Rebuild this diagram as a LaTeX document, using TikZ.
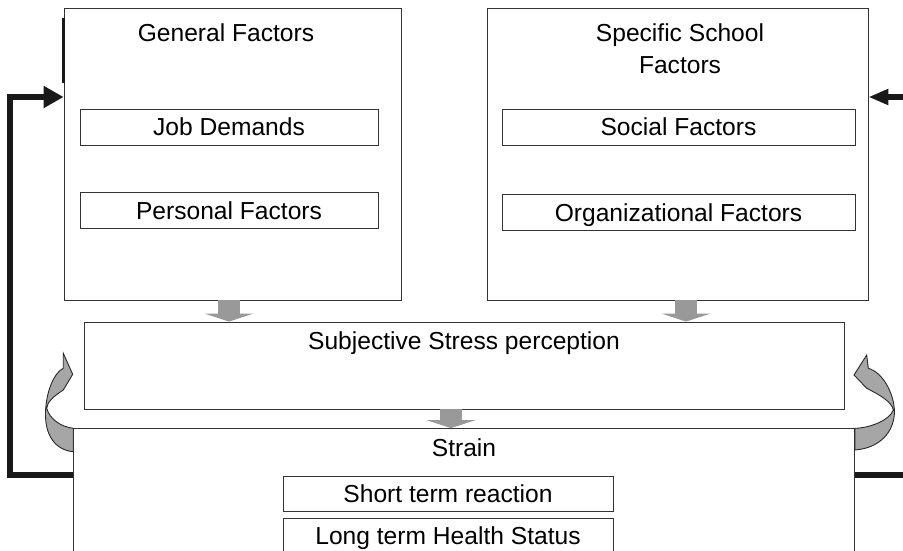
\documentclass[tikz,border=0pt]{standalone}
\usepackage{fontspec}
\setmainfont{Liberation Sans}
\usetikzlibrary{arrows.meta}
\begin{document}
\begin{tikzpicture}[x=0.02cm, y=-0.02cm,
  font=\fontsize{14}{18}\selectfont,
  bigbox/.style={rectangle, draw=black!80, line width=0.5pt},
  smallbox/.style={rectangle, draw=black!80, line width=0.5pt, minimum height=0.72cm, text height=10pt, text depth=0pt, inner sep=0pt},
  title/.style={anchor=base, inner sep=0pt},
  fall/.style={draw=black!40, line width=0.44cm, -{Triangle[length=0.16cm, width=0.98cm, line width=0pt]}},
  feedback/.style={draw=black!90, line width=3pt},
  swirl/.style={fill=black!35, draw=black!85, line width=0.5pt}]
\useasboundingbox (0,0) rectangle (903,551);
\node (general) [bigbox, minimum width=6.74cm, minimum height=5.84cm] at (232.5,154) {};
\node (specific) [bigbox, minimum width=7.62cm, minimum height=5.84cm] at (677.5,154) {};
\node (gentitle) [title] at (226,41.5) {General Factors};
\node (spectitle) [anchor=north, align=center, inner sep=0pt] at (680,23.7) {Specific School\\Factors};
\node (job) [smallbox, minimum width=5.96cm] at (229,127) {Job Demands};
\node (personal) [smallbox, minimum width=5.96cm] at (229,210.5) {Personal Factors};
\node (social) [smallbox, minimum width=7.06cm] at (678.5,127) {Social Factors};
\node (organizational) [smallbox, minimum width=7.06cm] at (678.5,212.5) {Organizational Factors};
\node (subjective) [bigbox, minimum width=15.22cm, minimum height=1.74cm] at (464.5,365.5) {};
\node (subjtitle) [title] at (464,349) {Subjective Stress perception};
\node (strain) [bigbox, minimum width=15.64cm, minimum height=2.83cm] at (464,499.3) {};
\node (straintitle) [title] at (464,456) {Strain};
\node (short) [smallbox, minimum width=6.6cm, minimum height=0.7cm] at (448,493.5) {Short term reaction};
\node (long) [smallbox, minimum width=6.6cm, minimum height=0.7cm] at (448,535.8) {Long term Health Status};

\coordinate (genout) at ([xshift=-0.07cm]general.south);
\coordinate (specout) at ([xshift=0.17cm]specific.south);
\coordinate (subjout) at ([xshift=-0.27cm]subjective.south);
\draw[fall] (genout) -- (genout |- subjective.north);
\draw[fall] (specout) -- (specout |- subjective.north);
\draw[fall] (subjout) -- (subjout |- strain.north);

\coordinate (leftlow) at (10,475);
\coordinate (lefthigh) at (10,97);
\coordinate (rightlow) at (920,475);
\coordinate (righthigh) at (920,97);
\draw[feedback, -{Triangle[length=0.4cm, width=0.42cm]}] (strain.west |- leftlow) -- (leftlow) -- (lefthigh) -- (general.west |- lefthigh);
\draw[feedback, -{Triangle[length=0.4cm, width=0.3cm]}] (strain.east |- rightlow) -- (rightlow) -- (righthigh) -- (specific.east |- righthigh);
\draw[line width=1.6pt, black!90] (general.north west) ++(0,10) -- ++(0,65);

\draw[swirl] (63.3,353.3) -- (72.7,374.3) -- (63.3,390) .. controls (54,396) and (47,402) .. (46.7,408.3) .. controls (50,420) and (62,427) .. (73.3,428.3) -- (73.3,451.7) .. controls (55,450) and (45,435) .. (45.5,413) .. controls (46,390) and (55,372) .. (63.3,368.3) -- cycle;
\draw[swirl] (866.7,355) -- (854,375) -- (866.7,388.3) .. controls (880,395) and (892,402) .. (893.3,410) .. controls (890,420) and (870,428) .. (855,428.3) -- (855,450) .. controls (880,448) and (894,432) .. (894.5,412) .. controls (894,392) and (882,372) .. (868.3,368.3) -- cycle;
\end{tikzpicture}
\end{document}
